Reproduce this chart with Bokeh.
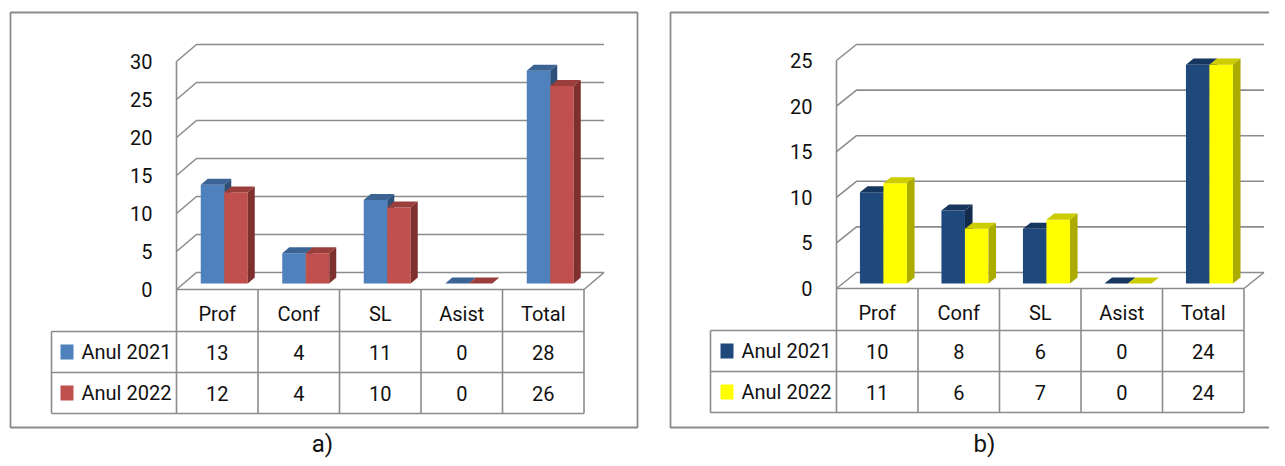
from bokeh.plotting import figure
from bokeh.models import Range1d
from bokeh.layouts import row
from bokeh.embed import file_html
from bokeh.resources import INLINE
from bokeh.core.properties import value

# ---------------- data ----------------
categories = ["Prof", "Conf", "SL", "Asist", "Total"]
series_names = ["Anul 2021", "Anul 2022"]
a_2021 = [13, 4, 11, 0, 28]
a_2022 = [12, 4, 10, 0, 26]
b_2021 = [10, 8, 6, 0, 24]
b_2022 = [11, 6, 7, 0, 24]
a_ticks = [0, 5, 10, 15, 20, 25, 30]
b_ticks = [0, 5, 10, 15, 20, 25]
captions = ["a)", "b)"]

# ---------------- styles ----------------
FONT = "Roboto"
GRID = "#8c8c8c"
a_colors = [("#4F81BD", "#3B6494", "#2E4F78"), ("#C0504D", "#9A3E3B", "#7E302E")]
b_colors = [("#1F497D", "#17375E", "#132C4C"), ("#FFFF00", "#CCCC00", "#ABAB00")]

FY0, FH = 0, 458


def build(fx0, fw, col_left, y0, ppu, ddx, ddy, f1, f2, ticks, series, colors,
          legend_left, sq_left, txt_left, tick_right, box, cap_x, caption):
    colw = 81.5
    x_start = (fx0 - col_left) / colw - 0.5
    x_end = (fx0 + fw - col_left) / colw - 0.5
    v_start = (y0 - (FY0 + FH)) / ppu
    v_end = (y0 - FY0) / ppu
    p = figure(width=fw, height=FH, x_range=Range1d(x_start, x_end),
               y_range=Range1d(v_start, v_end), output_backend="svg",
               toolbar_location=None, x_axis_location=None, y_axis_location=None,
               min_border=0, outline_line_color=None)
    p.extra_x_ranges = {"px": Range1d(fx0, fx0 + fw)}
    p.extra_y_ranges = {"px": Range1d(FY0 + FH, FY0)}
    p.xgrid.visible = False
    p.ygrid.visible = False
    p.background_fill_color = "white"
    p.border_fill_color = "white"

    DX = ddx / colw
    DY = ddy / ppu
    n = len(categories)
    xl, xr = -0.5, n - 0.5

    # outer box
    p.quad(left=[box[0]], right=[box[2]], top=[box[1]], bottom=[box[3]],
           x_range_name="px", y_range_name="px", fill_color=None,
           line_color=GRID, line_width=1.8)

    # gridlines (front-left diagonal + back wall line)
    gx = [[xl, xl + DX, xr + DX] for t in ticks]
    gy = [[t, t + DY, t + DY] for t in ticks]
    p.multi_line(gx, gy, line_color=GRID, line_width=1.6)
    # front vertical axis line and floor edges
    p.multi_line([[xl, xl], [xl, xr], [xr, xr + DX]],
                 [[0, ticks[-1]], [0, 0], [0, DY]], line_color=GRID, line_width=1.6)

    # tick labels
    p.text(x=[tick_right] * len(ticks), y=ticks, text=[str(t) for t in ticks],
           x_range_name="px", text_align="right", text_baseline="middle",
           text_font=value(FONT), text_font_size="20px", text_color="#111111")

    # bars
    bw = 23.5 / colw
    for s, (vals, (cf, ct, cs)) in enumerate(zip(series, colors)):
        sx1, sy1 = f1 * DX, f1 * DY
        sx2, sy2 = f2 * DX, f2 * DY
        L = [k - bw + s * bw for k in range(n)]
        R = [l + bw for l in L]
        p.quad(left=[l + sx1 for l in L], right=[r + sx1 for r in R],
               bottom=[sy1] * n, top=[v + sy1 for v in vals],
               fill_color=cf, line_color=None)
        tx = [[l + sx1, r + sx1, r + sx2, l + sx2] for l, r in zip(L, R)]
        ty = [[v + sy1, v + sy1, v + sy2, v + sy2] for v in vals]
        p.patches(tx, ty, fill_color=ct, line_color=None)
        sxs = [[r + sx1, r + sx1, r + sx2, r + sx2] for r in R]
        sys_ = [[sy1, v + sy1, v + sy2, sy2] for v in vals]
        p.patches(sxs, sys_, fill_color=cs, line_color=None)

    # data table
    r0 = y0
    r1, r2, r3 = y0 + 42, y0 + 83, y0 + 124
    right_px = col_left + colw * n
    lines_x = []
    lines_y = []
    for i in range(n + 1):
        xb = col_left + colw * i
        lines_x.append([xb, xb])
        lines_y.append([r0, r3])
    lines_x.append([legend_left, legend_left]); lines_y.append([r1, r3])
    for yy in (r1, r2, r3):
        lines_x.append([legend_left, right_px]); lines_y.append([yy, yy])
    p.multi_line(lines_x, lines_y, x_range_name="px", y_range_name="px",
                 line_color=GRID, line_width=1.6)

    p.text(x=list(range(n)), y=[(r0 + r1) / 2 + 3] * n, text=categories,
           y_range_name="px", text_align="center", text_baseline="middle",
           text_font=value(FONT), text_font_size="20px", text_color="#111111")
    rows_c = [(r1 + r2) / 2, (r2 + r3) / 2]
    for s, vals in enumerate(series):
        p.text(x=list(range(n)), y=[rows_c[s]] * n, text=[str(v) for v in vals],
               y_range_name="px", text_align="center", text_baseline="middle",
               text_font=value(FONT), text_font_size="20px", text_color="#111111")
    # legend keys
    p.quad(left=[sq_left] * 2, right=[sq_left + 13] * 2,
           top=[c - 7.5 for c in rows_c], bottom=[c + 7.5 for c in rows_c],
           fill_color=[c[0] for c in colors], line_color=None,
           x_range_name="px", y_range_name="px")
    p.text(x=[txt_left] * 2, y=rows_c, text=series_names,
           x_range_name="px", y_range_name="px", text_align="left",
           text_baseline="middle", text_font=value(FONT), text_font_size="20px",
           text_color="#111111")

    # caption
    p.text(x=[cap_x], y=[443], text=[caption], x_range_name="px", y_range_name="px",
           text_align="center", text_baseline="middle", text_font=value(FONT),
           text_font_size="24px", text_color="#111111")
    return p


pa = build(fx0=0, fw=650, col_left=176, y0=289, ppu=7.6, ddx=20, ddy=17,
           f1=0.35, f2=0.70, ticks=a_ticks, series=[a_2021, a_2022], colors=a_colors,
           legend_left=51, sq_left=60, txt_left=81, tick_right=152,
           box=(10, 12, 637, 427), cap_x=322, caption=captions[0])
pb = build(fx0=650, fw=619, col_left=836, y0=288, ppu=9.12, ddx=20, ddy=16,
           f1=0.31, f2=0.69, ticks=b_ticks, series=[b_2021, b_2022], colors=b_colors,
           legend_left=710, sq_left=720, txt_left=741, tick_right=812,
           box=(670, 12, 1300, 427), cap_x=984, caption=captions[1])

layout = row(pa, pb, spacing=0)
open("out.html", "w").write(file_html(layout, INLINE))
